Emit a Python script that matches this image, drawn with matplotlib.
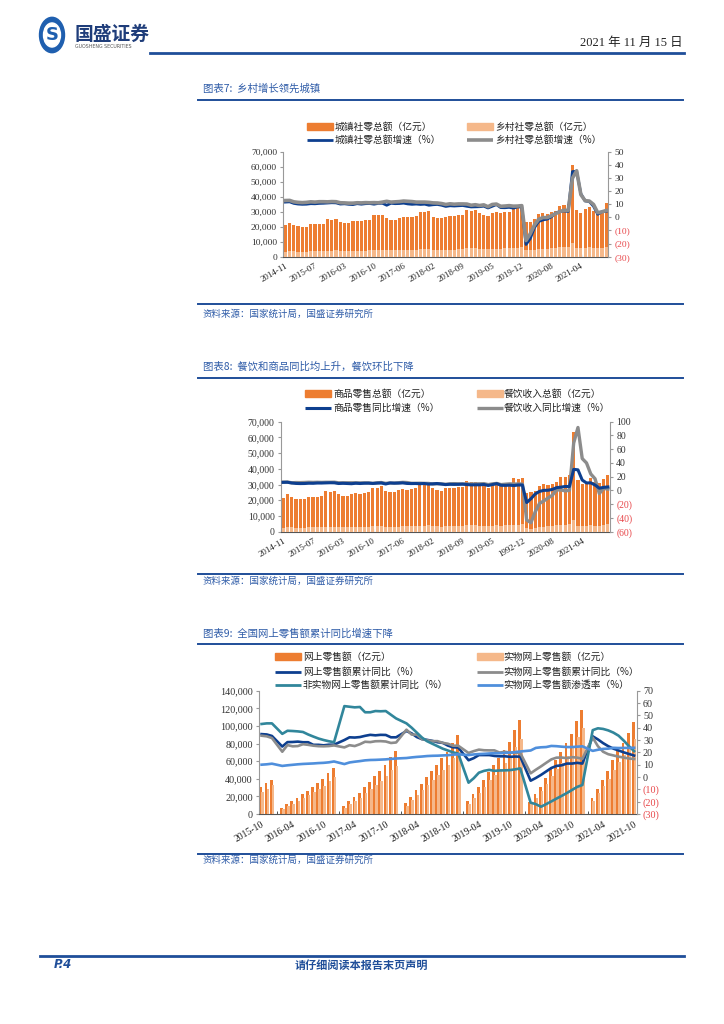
import numpy as np
import pandas as pd
import matplotlib
matplotlib.use("Agg")
import matplotlib.pyplot as plt
from matplotlib.patches import Rectangle, Circle
from matplotlib.lines import Line2D

# ---------------- data ----------------
months_a = [p.strftime('%Y-%m') for p in pd.period_range('2014-11', '2021-10', freq='M') if p.month != 1]
xlabels_1 = ['2014-11', '2015-07', '2016-03', '2016-10', '2017-06', '2018-02',
             '2018-09', '2019-05', '2019-12', '2020-08', '2021-04']
xlabels_2 = ['2014-11', '2015-07', '2016-03', '2016-10', '2017-06', '2018-02',
             '2018-09', '2019-05', '1992-12', '2020-08', '2021-04']

# chart 7 (亿元, %)
urban = [21000, 22800,
         21200, 20300, 20000, 20100, 21600, 21500, 21700, 22000, 25000, 24800, 25300,
         23300, 22400, 22200, 23500, 23800, 23800, 24300, 24500, 27500, 27600, 28000,
         25600, 24700, 24500, 26000, 26300, 26200, 26800, 27000, 30000, 30000, 30300,
         26800, 26000, 25500, 26700, 27200, 27100, 27800, 28000, 31200, 30800, 31000,
         29000, 28000, 27300, 29000, 29600, 29000, 29900, 30000, 32000, 32500, 33500,
         22900, 23300, 24900, 28200, 29300, 28200, 29500, 30700, 33800, 34400, 34900,
         61100, 31100, 29300, 31800, 32900, 30700, 28900, 30500, 35500]
rural = [3400, 3700,
         3500, 3400, 3300, 3400, 3500, 3500, 3600, 3700, 4000, 4100, 4300,
         3900, 3800, 3700, 3900, 4000, 4000, 4100, 4200, 4600, 4600, 4800,
         4400, 4200, 4200, 4400, 4500, 4500, 4600, 4700, 5100, 5100, 5300,
         4700, 4500, 4400, 4700, 4800, 4800, 4900, 5000, 5500, 5500, 5600,
         5300, 5100, 5000, 5300, 5400, 5300, 5500, 5500, 5900, 6000, 6200,
         4200, 4300, 4600, 5200, 5400, 5300, 5500, 5700, 6200, 6400, 6600,
         9300, 5800, 5500, 5900, 6200, 5800, 5500, 5900, 6600]
urban_g = [11.6, 11.8,
           10.6, 10.1, 9.9, 10.0, 10.4, 10.3, 10.6, 10.7, 10.9, 11.1, 11.0,
           10.1, 10.3, 9.9, 9.7, 10.4, 10.0, 10.4, 10.5, 10.0, 10.6, 10.7,
           9.2, 10.7, 10.4, 10.5, 10.8, 10.2, 9.9, 10.1, 9.8, 10.0, 9.2,
           9.6, 9.8, 9.2, 8.3, 8.8, 8.6, 8.8, 9.0, 8.4, 7.9, 8.0,
           8.1, 8.5, 7.1, 8.4, 9.7, 7.4, 7.3, 7.6, 7.0, 7.9, 7.9,
           -20.7, -16.3, -7.9, -3.2, -2.0, -1.4, 0.3, 3.1, 4.3, 4.9, 4.4,
           34.9, 35.0, 18.0, 12.5, 12.0, 8.4, 2.3, 4.3, 4.6]
rural_g = [12.8, 12.9,
           11.8, 11.4, 11.2, 11.4, 11.8, 11.6, 11.9, 11.9, 11.8, 12.0, 11.9,
           11.1, 11.0, 10.8, 10.8, 11.1, 11.0, 11.2, 11.1, 11.2, 11.1, 11.6,
           12.2, 11.6, 11.8, 12.0, 12.4, 12.2, 12.0, 11.6, 11.6, 11.6, 11.4,
           11.0, 10.9, 10.5, 9.8, 10.3, 10.0, 10.2, 10.2, 10.1, 9.2, 9.6,
           9.0, 9.5, 8.1, 9.8, 10.1, 8.4, 8.6, 8.9, 8.5, 8.6, 8.9,
           -17.7, -12.6, -5.9, -1.5, -0.2, -0.2, 1.2, 2.8, 4.3, 5.4, 5.2,
           29.8, 35.5, 17.3, 12.7, 12.4, 9.8, 3.5, 4.2, 5.2]

# chart 8
commodity = [21600, 23800,
             22000, 21100, 20700, 21000, 22200, 22200, 22400, 22700, 25600, 25400, 26000,
             24000, 23000, 22700, 24100, 24400, 24300, 24800, 25100, 28000, 28100, 28800,
             26200, 25400, 25200, 26600, 27000, 26800, 27300, 27600, 30500, 30600, 31400,
             27500, 26600, 26200, 27500, 28000, 27800, 28400, 28600, 32000, 31500, 31900,
             29800, 28800, 28100, 29800, 30400, 29700, 30500, 30900, 34000, 33500, 34300,
             24800, 25000, 26100, 29300, 30300, 29500, 30300, 31800, 34900, 34900, 36400,
             63600, 32900, 30100, 31800, 34000, 31800, 31200, 33500, 36400]
catering = [2500, 2800,
            2700, 2600, 2500, 2600, 2700, 2700, 2800, 2900, 3000, 3000, 3200,
            2900, 2900, 2800, 3000, 3100, 3100, 3200, 3200, 3400, 3400, 3600,
            3300, 3200, 3100, 3300, 3400, 3400, 3500, 3600, 3800, 3700, 4000,
            3500, 3400, 3300, 3600, 3700, 3700, 3800, 3900, 4100, 4000, 4300,
            3800, 3700, 3600, 3800, 4000, 3900, 4000, 4100, 4500, 4400, 4800,
            2200, 2000, 2300, 3000, 3300, 3400, 3700, 4100, 4500, 4400, 4800,
            7400, 3900, 3400, 3700, 4100, 3900, 3500, 4200, 4800]
commodity_g = [11.8, 11.9,
               10.9, 10.2, 10.0, 10.1, 10.5, 10.4, 10.8, 10.8, 11.0, 11.2, 11.1,
               10.1, 10.4, 10.1, 9.8, 10.5, 10.1, 10.5, 10.6, 10.2, 10.7, 10.9,
               9.4, 10.9, 10.6, 10.7, 11.0, 10.2, 10.0, 10.1, 9.8, 10.1, 9.3,
               9.6, 10.1, 9.4, 8.5, 9.0, 8.8, 8.9, 9.2, 8.6, 8.1, 8.2,
               8.2, 8.7, 7.2, 8.6, 9.9, 7.5, 7.4, 7.7, 7.1, 7.9, 7.9,
               -17.6, -12.0, -5.1, -1.4, 0.1, 0.3, 1.5, 4.1, 4.8, 5.8, 5.6,
               30.7, 30.0, 15.1, 10.9, 11.1, 7.9, 3.3, 4.5, 5.1]
catering_g = [12.1, 12.3,
              11.1, 11.5, 11.4, 11.6, 11.9, 11.7, 11.9, 11.7, 11.9, 11.9, 12.0,
              11.1, 11.2, 11.2, 11.2, 11.2, 11.0, 11.1, 11.0, 10.3, 11.1, 11.5,
              10.3, 10.9, 10.7, 11.2, 11.8, 11.5, 10.4, 10.4, 10.5, 10.3, 10.2,
              9.4, 9.7, 9.5, 9.0, 9.6, 9.9, 9.6, 9.5, 9.5, 9.4, 9.6,
              9.7, 9.9, 8.5, 9.6, 10.2, 8.5, 9.1, 9.6, 9.3, 9.4, 9.4,
              -43.1, -46.8, -31.1, -18.9, -15.2, -11.0, -7.0, 0.7, 0.8, -0.6, 0.2,
              68.9, 91.6, 46.4, 40.0, 24.0, 17.0, -4.5, 3.1, 2.0]

# chart 9 (cumulative, January has no separate value)
months_c = [p.strftime('%Y-%m') for p in pd.period_range('2015-10', '2021-10', freq='M')]
xlabels_3 = ['2015-10', '2016-04', '2016-10', '2017-04', '2017-10', '2018-04', '2018-10',
             '2019-04', '2019-10', '2020-04', '2020-10', '2021-04', '2021-10']
online = [30300, 34800, 38800,
          None, 6800, 11000, 14300, 18600, 22700, 26300, 30300, 34700, 39600, 46200, 52000,
          None, 9200, 14200, 19500, 24000, 31000, 36700, 43000, 49300, 55800, 64800, 71800,
          None, 12200, 19700, 27000, 34400, 41800, 49000, 55800, 63500, 70500, 80700, 90100,
          None, 14800, 22400, 30400, 38600, 48200, 55800, 64000, 73000, 81500, 94900, 106800,
          None, 13700, 22200, 30900, 40900, 51500, 61000, 70300, 80100, 91300, 105400, 117600,
          None, 18000, 28100, 38100, 48500, 61100, 71000, 80900, 91900, 104000]
physical = [25000, 28600, 32400,
            None, 5300, 8700, 11300, 14900, 18300, 21300, 24700, 28300, 32300, 37700, 41900,
            None, 7000, 11000, 15000, 18300, 23900, 28300, 33400, 38000, 43000, 49900, 54800,
            None, 9600, 15400, 21200, 26900, 32800, 38500, 43900, 50100, 55500, 63200, 70200,
            None, 11800, 18000, 24400, 31000, 38200, 44700, 51300, 58100, 65600, 76000, 85200,
            None, 11200, 18500, 25800, 33700, 43500, 51500, 58300, 66300, 75000, 87800, 97600,
            None, 15000, 23700, 31600, 40100, 50300, 58700, 66600, 75000, 84900]
online_g = [34.8, 34.5, 33.3,
            None, 24.7, 28.3, 28.4, 28.7, 28.2, 28.2, 26.1, 26.1, 25.7, 26.2, 26.2,
            None, 30.0, 32.2, 32.0, 32.4, 33.4, 34.2, 33.8, 34.2, 34.1, 32.2, 32.2,
            None, 37.3, 35.4, 32.4, 30.7, 30.1, 29.3, 28.2, 27.7, 25.5, 24.1, 23.9,
            None, 13.6, 15.3, 17.8, 17.8, 17.8, 17.1, 16.8, 16.8, 16.4, 16.6, 16.5,
            None, -3.0, -0.8, 1.7, 4.5, 7.3, 9.0, 9.5, 10.9, 10.9, 11.5, 10.9,
            None, 33.0, 30.5, 27.5, 25.0, 23.0, 21.5, 20.0, 18.7, 17.4]
physical_g = [33.5, 33.0, 31.6,
              None, 20.5, 25.9, 24.9, 25.1, 26.6, 26.1, 25.4, 25.0, 24.9, 25.1, 25.6,
              None, 24.0, 25.8, 25.1, 26.6, 28.6, 28.3, 29.0, 29.1, 28.8, 27.6, 28.0,
              None, 38.4, 34.4, 34.4, 30.7, 29.8, 29.1, 29.1, 27.7, 27.0, 25.4, 25.4,
              None, 19.5, 21.0, 22.2, 21.7, 21.6, 21.6, 19.8, 20.5, 19.8, 19.7, 19.5,
              None, 3.0, 5.9, 8.6, 11.5, 14.3, 15.7, 15.8, 15.3, 16.1, 15.7, 14.8,
              None, 32.0, 25.0, 20.5, 18.5, 17.5, 16.5, 15.8, 15.0, 14.6]
nonphys_g = [43.0, 43.5, 43.5,
             None, 35.0, 37.5, 37.3, 37.0, 36.5, 34.5, 32.8, 31.2, 30.0, 29.0, 28.2,
             None, 57.5, 57.0, 56.5, 56.8, 52.5, 52.5, 53.5, 53.3, 53.5, 50.5, 47.5,
             None, 43.5, 40.0, 36.0, 32.0, 29.0, 27.0, 25.0, 23.0, 21.5, 20.0, 19.0,
             None, -4.6, -1.0, 3.5, 5.0, 5.8, 5.0, 5.3, 5.4, 5.6, 6.2, 7.0,
             None, -20.8, -22.0, -24.1, -22.0, -19.8, -17.5, -15.3, -13.0, -10.5, -8.0, -6.5,
             None, 38.0, 39.5, 39.0, 37.8, 36.0, 33.5, 29.5, 25.0, 21.0]
penetration = [10.0, 10.3, 10.8,
               None, 9.0, 9.5, 9.9, 10.3, 10.6, 10.8, 11.0, 11.3, 11.5, 11.9, 12.6,
               None, 10.5, 11.8, 12.4, 12.9, 13.5, 13.8, 13.9, 14.1, 14.3, 14.7, 15.0,
               None, 15.4, 15.9, 16.3, 16.6, 17.0, 17.2, 17.3, 17.5, 17.7, 18.1, 18.4,
               None, 17.8, 18.3, 18.6, 18.8, 19.1, 19.3, 19.3, 19.5, 19.7, 20.2, 20.7,
               None, 21.5, 23.6, 24.1, 24.3, 25.2, 25.0, 24.6, 24.3, 24.3, 24.6, 24.9,
               None, 21.2, 22.1, 22.8, 23.0, 23.7, 23.5, 23.6, 23.6, 23.7]

# ---------------- style ----------------
CJK = ['Noto Sans CJK SC', 'DejaVu Sans']
SERIF = ['Liberation Serif', 'Noto Sans CJK SC', 'DejaVu Serif']
ORANGE = '#ED7D31'
LIGHT = '#F5B88A'
DBLUE = '#0D3F8F'
GRAY = '#8C8C8C'
TEAL = '#31869B'
LBLUE = '#4F8FDC'
HBLUE = '#1F4E99'
TBLUE = '#2F5CA8'
NEG = '#E8474A'

W, H = 724, 1024
fig = plt.figure(figsize=(W / 100, H / 100), dpi=100)


def ptxt(x, y, s, **kw):
    fig.text(x / W, 1 - y / H, s, **kw)


def hline(x0, x1, y, color, lw):
    fig.add_artist(Line2D([x0 / W, x1 / W], [1 - y / H, 1 - y / H], color=color, lw=lw,
                          transform=fig.transFigure))


def add_ax(x0, y0, x1, y1):
    return fig.add_axes([x0 / W, 1 - y1 / H, (x1 - x0) / W, (y1 - y0) / H])


def leg_patch(x, y, color, w=26, h=7):
    fig.add_artist(Rectangle((x / W, 1 - (y + h / 2) / H), w / W, h / H, color=color,
                             transform=fig.transFigure))


def leg_line(x, y, color, lw, w=26):
    fig.add_artist(Line2D([x / W, (x + w) / W], [1 - y / H, 1 - y / H], color=color, lw=lw,
                          transform=fig.transFigure, solid_capstyle='butt'))


def leg_text(x, y, s):
    ptxt(x, y, s, fontsize=7, family=CJK, va='center', ha='left', color='#222222')


def style(ax, ax2, n, ymax, ystep, rticks, tickpos, ticklabels, fs_y, fs_x):
    ax.set_xlim(-0.5, n - 0.5)
    ax.set_ylim(0, ymax)
    yt = np.arange(0, ymax + 1, ystep)
    ax.set_yticks(yt)
    ax.set_yticklabels([f'{v:,.0f}' for v in yt], fontsize=fs_y, family=SERIF, color='#333333')
    ax.set_xticks(tickpos)
    ax.set_xticklabels(ticklabels, rotation=30, ha='right', rotation_mode='anchor',
                       fontsize=fs_x, family=SERIF, color='#222222')
    ax.set_xticks(range(n), minor=True)
    ax.tick_params(axis='x', which='both', direction='in', length=2.5, color='#333333', pad=4)
    ax.tick_params(axis='y', direction='out', length=2.5, color='#999999', pad=2)
    ax.spines['top'].set_visible(False)
    ax.spines['right'].set_visible(False)
    ax.spines['left'].set_color('#999999')
    ax.spines['bottom'].set_color('#555555')
    ax2.set_ylim(rticks[0], rticks[-1])
    ax2.set_yticks(rticks)
    ax2.set_yticklabels([f'({-v})' if v < 0 else f'{v}' for v in rticks], fontsize=fs_y,
                        family=SERIF)
    for lab, v in zip(ax2.get_yticklabels(), rticks):
        lab.set_color(NEG if v < 0 else '#333333')
    for s in ['top', 'left', 'bottom']:
        ax2.spines[s].set_visible(False)
    ax2.spines['right'].set_color('#999999')
    ax2.tick_params(axis='y', direction='out', length=2.5, color='#999999', pad=2)


# ---------------- page header ----------------
fig.add_artist(Circle((52 / W, 1 - 35 / H), 12.5 / W, color='#1F5FAF', transform=fig.transFigure))
fig.add_artist(Circle((52 / W, 1 - 35 / H), 8.5 / W, color='white', transform=fig.transFigure))
ptxt(52, 35.5, 'S', fontsize=13, fontweight='bold', color='#1F5FAF', ha='center', va='center',
     family=['DejaVu Sans'])
ptxt(75, 34, '国盛证券', fontsize=13.5, fontweight='bold', color='#1F3D7A', ha='left', va='center',
     family=CJK)
ptxt(75, 46.5, 'GUOSHENG SECURITIES', fontsize=3.4, color='#555555', ha='left', va='center',
     family=['DejaVu Sans'])
ptxt(683, 43, '2021 年 11 月 15 日', fontsize=9, color='#222222', ha='right', va='center',
     family=SERIF)
hline(150, 684, 52.5, HBLUE, 2.0)

# ---------------- chart 7 ----------------
ptxt(203, 89, '图表7:  乡村增长领先城镇', fontsize=7.5, color=TBLUE, ha='left', va='center',
     family=CJK, style='italic')
hline(198, 683, 99.5, HBLUE, 1.4)

n1 = len(months_a)
x1 = np.arange(n1)
ax1 = add_ax(283.3, 151.7, 608.3, 256.7)
ax1.bar(x1, urban, width=0.75, color=ORANGE, zorder=2)
ax1.bar(x1, rural, width=0.75, color=LIGHT, zorder=3)
ax1b = ax1.twinx()
ax1b.plot(x1, urban_g, color=DBLUE, lw=2.0, zorder=3)
ax1b.plot(x1, rural_g, color=GRAY, lw=2.6, zorder=4)
tp1 = [months_a.index(l) for l in xlabels_1]
style(ax1, ax1b, n1, 70000, 10000, list(range(-30, 51, 10)), tp1, xlabels_1, 6.8, 6.5)

leg_patch(306.7, 126.5, ORANGE)
leg_text(335, 126.5, '城镇社零总额（亿元）')
leg_patch(466.7, 126.5, LIGHT)
leg_text(495, 126.5, '乡村社零总额（亿元）')
leg_line(306.7, 139.5, DBLUE, 2.0)
leg_text(335, 139.5, '城镇社零总额增速（%）')
leg_line(466.7, 139.5, GRAY, 2.6)
leg_text(495, 139.5, '乡村社零总额增速（%）')

hline(198, 683, 303.5, HBLUE, 1.4)
ptxt(203, 314, '资料来源：国家统计局，国盛证券研究所', fontsize=6.8, color=TBLUE, ha='left',
     va='center', family=CJK)

# ---------------- chart 8 ----------------
ptxt(203, 367, '图表8:  餐饮和商品同比均上升，餐饮环比下降', fontsize=7.5, color=TBLUE,
     ha='left', va='center', family=CJK)
hline(198, 683, 378, HBLUE, 1.4)

ax2 = add_ax(281, 421.7, 610, 531.7)
ax2.bar(x1, commodity, width=0.75, color=ORANGE, zorder=2)
ax2.bar(x1, catering, width=0.75, color=LIGHT, zorder=3)
ax2b = ax2.twinx()
ax2b.plot(x1, catering_g, color=GRAY, lw=2.4, zorder=3)
ax2b.plot(x1, commodity_g, color=DBLUE, lw=2.2, zorder=4)
style(ax2, ax2b, n1, 70000, 10000, list(range(-60, 101, 20)), tp1, xlabels_2, 7.0, 6.5)

leg_patch(305, 393.7, ORANGE)
leg_text(333, 393.7, '商品零售总额（亿元）')
leg_patch(476.7, 393.7, LIGHT)
leg_text(504, 393.7, '餐饮收入总额（亿元）')
leg_line(305, 408, DBLUE, 2.2)
leg_text(333, 408, '商品零售同比增速（%）')
leg_line(476.7, 408, GRAY, 2.4)
leg_text(504, 408, '餐饮收入同比增速（%）')

hline(198, 683, 573.5, HBLUE, 1.4)
ptxt(203, 581.5, '资料来源：国家统计局，国盛证券研究所', fontsize=6.8, color=TBLUE, ha='left',
     va='center', family=CJK)

# ---------------- chart 9 ----------------
ptxt(203, 633, '图表9:  全国网上零售额累计同比增速下降', fontsize=7.5, color=TBLUE,
     ha='left', va='center', family=CJK)
hline(198, 683, 643.5, HBLUE, 1.4)

n3 = len(months_c)
x3 = np.arange(n3)


def valid(vals):
    idx = np.array([i for i, v in enumerate(vals) if v is not None])
    return idx, np.array([v for v in vals if v is not None], dtype=float)


ax3 = add_ax(259, 690.7, 636.7, 814)
xi, yv = valid(online)
ax3.bar(xi - 0.15, yv, width=0.55, color=ORANGE, zorder=2)
xi, yv = valid(physical)
ax3.bar(xi + 0.2, yv, width=0.5, color=LIGHT, zorder=3)
ax3b = ax3.twinx()
for series, col, lw in [(online_g, DBLUE, 1.9), (physical_g, GRAY, 1.9),
                        (nonphys_g, TEAL, 1.9), (penetration, LBLUE, 1.9)]:
    xi, yv = valid(series)
    ax3b.plot(xi, yv, color=col, lw=lw)
tp3 = [months_c.index(l) for l in xlabels_3]
style(ax3, ax3b, n3, 140000, 20000, list(range(-30, 71, 10)), tp3, xlabels_3, 7.3, 7.0)

leg_patch(275, 656.7, ORANGE)
leg_text(302.7, 656.7, '网上零售额（亿元）')
leg_patch(476.7, 656.7, LIGHT)
leg_text(503, 656.7, '实物网上零售额（亿元）')
leg_line(275, 671.5, DBLUE, 2.0)
leg_text(302.7, 671.5, '网上零售额累计同比（%）')
leg_line(476.7, 671.5, GRAY, 2.0)
leg_text(503, 671.5, '实物网上零售额累计同比（%）')
leg_line(275, 685, TEAL, 2.0)
leg_text(302.7, 685, '非实物网上零售额累计同比（%）')
leg_line(476.7, 685, LBLUE, 2.0)
leg_text(503, 685, '实物网上零售额渗透率（%）')

hline(198, 683, 853.5, HBLUE, 1.4)
ptxt(203, 860.5, '资料来源：国家统计局，国盛证券研究所', fontsize=6.8, color=TBLUE, ha='left',
     va='center', family=CJK)

# ---------------- footer ----------------
hline(40, 684, 955.5, HBLUE, 2.0)
ptxt(54, 965, 'P.4', fontsize=8.5, fontweight='bold', style='italic', color=HBLUE, ha='left',
     va='center', family=['DejaVu Sans'])
ptxt(361, 965, '请仔细阅读本报告末页声明', fontsize=8, fontweight='bold', color=HBLUE,
     ha='center', va='center', family=CJK)

fig.savefig('out.png', dpi=100)
